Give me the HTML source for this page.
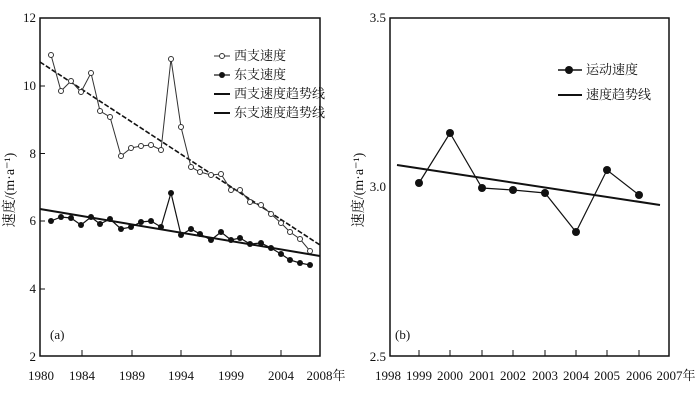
<!DOCTYPE html>
<html><head><meta charset="utf-8"><style>
html,body{margin:0;padding:0;background:#fff;}
svg{display:block;}
text{font-family:"Liberation Serif","Noto Serif CJK SC",serif;fill:#111;}
</style></head><body>
<svg width="700" height="400" viewBox="0 0 700 400" xmlns="http://www.w3.org/2000/svg">
<rect width="700" height="400" fill="#fff"/>
<!-- Left chart -->
<rect x="40" y="18" width="280" height="338" fill="none" stroke="#111" stroke-width="1.5"/>
<g stroke="#111" stroke-width="1">
<line x1="82" y1="356" x2="82" y2="350"/><line x1="132" y1="356" x2="132" y2="350"/><line x1="181" y1="356" x2="181" y2="350"/><line x1="231" y1="356" x2="231" y2="350"/><line x1="281" y1="356" x2="281" y2="350"/>
<line x1="40" y1="86" x2="45" y2="86"/><line x1="40" y1="153.5" x2="45" y2="153.5"/><line x1="40" y1="221" x2="45" y2="221"/><line x1="40" y1="289" x2="45" y2="289"/>
</g>
<g font-size="13" text-anchor="end">
<text x="36" y="22">12</text><text x="36" y="90">10</text><text x="36" y="158">8</text><text x="36" y="225">6</text><text x="36" y="293">4</text><text x="36" y="361">2</text>
</g>
<g font-size="13" text-anchor="middle">
<text x="41" y="380">1980</text><text x="82" y="380">1984</text><text x="132" y="380">1989</text><text x="181" y="380">1994</text><text x="231" y="380">1999</text><text x="281" y="380">2004</text><text x="326" y="380">2008年</text>
</g>
<text font-size="14" transform="translate(14,190) rotate(-90)" text-anchor="middle">速度/(m·a⁻¹)</text>
<text x="50" y="339" font-size="13">(a)</text>
<line x1="40" y1="62" x2="320" y2="245" stroke="#111" stroke-width="1.6" stroke-dasharray="5,2"/>
<line x1="40" y1="209" x2="320" y2="256" stroke="#111" stroke-width="2"/>
<polyline fill="none" stroke="#333" stroke-width="1" points="51,55 61,91 71,81 81,92 91,73 100,111 110,117 121,156 131,148 141,146 151,145 161,150 171,59 181,127 191,167 200,172 211,175 221,174 231,190 240,190 250,202 261,205 271,214 281,223 290,232 300,239 310,251"/>
<g fill="#fff" stroke="#333" stroke-width="1">
<circle cx="51" cy="55" r="2.5"/><circle cx="61" cy="91" r="2.5"/><circle cx="71" cy="81" r="2.5"/><circle cx="81" cy="92" r="2.5"/><circle cx="91" cy="73" r="2.5"/><circle cx="100" cy="111" r="2.5"/><circle cx="110" cy="117" r="2.5"/><circle cx="121" cy="156" r="2.5"/><circle cx="131" cy="148" r="2.5"/><circle cx="141" cy="146" r="2.5"/><circle cx="151" cy="145" r="2.5"/><circle cx="161" cy="150" r="2.5"/><circle cx="171" cy="59" r="2.5"/><circle cx="181" cy="127" r="2.5"/><circle cx="191" cy="167" r="2.5"/><circle cx="200" cy="172" r="2.5"/><circle cx="211" cy="175" r="2.5"/><circle cx="221" cy="174" r="2.5"/><circle cx="231" cy="190" r="2.5"/><circle cx="240" cy="190" r="2.5"/><circle cx="250" cy="202" r="2.5"/><circle cx="261" cy="205" r="2.5"/><circle cx="271" cy="214" r="2.5"/><circle cx="281" cy="223" r="2.5"/><circle cx="290" cy="232" r="2.5"/><circle cx="300" cy="239" r="2.5"/><circle cx="310" cy="251" r="2.5"/>
</g>
<polyline fill="none" stroke="#111" stroke-width="1.2" points="51,221 61,217 71,218 81,225 91,217 100,224 110,219 121,229 131,227 141,222 151,221 161,227 171,193 181,235 191,229 200,234 211,240 221,232 231,240 240,238 250,244 261,243 271,248 281,254 290,260 300,263 310,265"/>
<g fill="#111">
<circle cx="51" cy="221" r="3"/><circle cx="61" cy="217" r="3"/><circle cx="71" cy="218" r="3"/><circle cx="81" cy="225" r="3"/><circle cx="91" cy="217" r="3"/><circle cx="100" cy="224" r="3"/><circle cx="110" cy="219" r="3"/><circle cx="121" cy="229" r="3"/><circle cx="131" cy="227" r="3"/><circle cx="141" cy="222" r="3"/><circle cx="151" cy="221" r="3"/><circle cx="161" cy="227" r="3"/><circle cx="171" cy="193" r="3"/><circle cx="181" cy="235" r="3"/><circle cx="191" cy="229" r="3"/><circle cx="200" cy="234" r="3"/><circle cx="211" cy="240" r="3"/><circle cx="221" cy="232" r="3"/><circle cx="231" cy="240" r="3"/><circle cx="240" cy="238" r="3"/><circle cx="250" cy="244" r="3"/><circle cx="261" cy="243" r="3"/><circle cx="271" cy="248" r="3"/><circle cx="281" cy="254" r="3"/><circle cx="290" cy="260" r="3"/><circle cx="300" cy="263" r="3"/><circle cx="310" cy="265" r="3"/>
</g>
<!-- legend left -->
<line x1="214" y1="56" x2="230" y2="56" stroke="#333"/><circle cx="222" cy="56" r="2.5" fill="#fff" stroke="#333"/>
<line x1="214" y1="75" x2="230" y2="75" stroke="#111" stroke-width="1.2"/><circle cx="222" cy="75" r="3" fill="#111"/>
<line x1="214" y1="94" x2="230" y2="94" stroke="#111" stroke-width="2"/>
<line x1="214" y1="113" x2="230" y2="113" stroke="#111" stroke-width="2"/>
<g font-size="13"><text x="234" y="60">西支速度</text><text x="234" y="79">东支速度</text><text x="234" y="98">西支速度趋势线</text><text x="234" y="117">东支速度趋势线</text></g>

<!-- Right chart -->
<rect x="390" y="18" width="279" height="338" fill="none" stroke="#111" stroke-width="1.5"/>
<g stroke="#111" stroke-width="1">
<line x1="419" y1="356" x2="419" y2="350"/><line x1="450" y1="356" x2="450" y2="350"/><line x1="482" y1="356" x2="482" y2="350"/><line x1="513" y1="356" x2="513" y2="350"/><line x1="545" y1="356" x2="545" y2="350"/><line x1="576" y1="356" x2="576" y2="350"/><line x1="607" y1="356" x2="607" y2="350"/><line x1="639" y1="356" x2="639" y2="350"/>
</g>
<g font-size="13" text-anchor="end">
<text x="386" y="22">3.5</text><text x="386" y="191">3.0</text><text x="386" y="361">2.5</text>
</g>
<g font-size="13" text-anchor="middle">
<text x="388" y="380">1998</text><text x="419" y="380">1999</text><text x="450" y="380">2000</text><text x="482" y="380">2001</text><text x="513" y="380">2002</text><text x="545" y="380">2003</text><text x="576" y="380">2004</text><text x="607" y="380">2005</text><text x="639" y="380">2006</text><text x="676" y="380">2007年</text>
</g>
<text font-size="14" transform="translate(363,190) rotate(-90)" text-anchor="middle">速度/(m·a⁻¹)</text>
<text x="395" y="339" font-size="13">(b)</text>
<line x1="397" y1="165" x2="660" y2="205" stroke="#111" stroke-width="2"/>
<polyline fill="none" stroke="#111" stroke-width="1.2" points="419,183 450,133 482,188 513,190 545,193 576,232 607,170 639,195"/>
<g fill="#111">
<circle cx="419" cy="183" r="4"/><circle cx="450" cy="133" r="4"/><circle cx="482" cy="188" r="4"/><circle cx="513" cy="190" r="4"/><circle cx="545" cy="193" r="4"/><circle cx="576" cy="232" r="4"/><circle cx="607" cy="170" r="4"/><circle cx="639" cy="195" r="4"/>
</g>
<line x1="558" y1="70" x2="582" y2="70" stroke="#111" stroke-width="1.5"/><circle cx="569" cy="70" r="4" fill="#111"/>
<line x1="558" y1="95" x2="582" y2="95" stroke="#111" stroke-width="2"/>
<g font-size="13"><text x="586" y="74">运动速度</text><text x="586" y="99">速度趋势线</text></g>
</svg>
</body></html>
